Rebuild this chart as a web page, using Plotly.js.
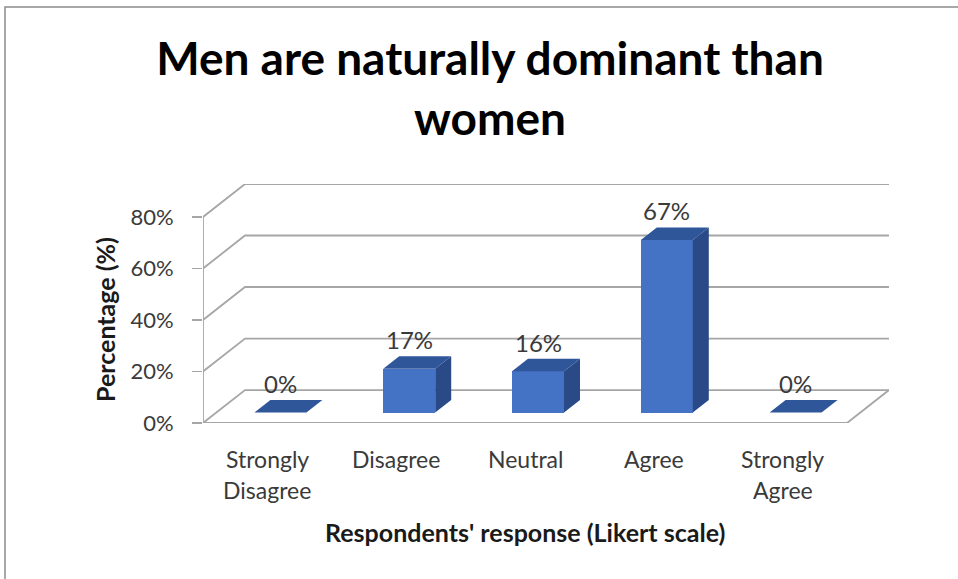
<!DOCTYPE html>
<html>
<head>
<meta charset="utf-8">
<script src="https://cdn.plot.ly/plotly-3.0.1.min.js"></script>
<style>
  html, body { margin: 0; padding: 0; background: #ffffff; }
  #chart { width: 958px; height: 579px; }
</style>
</head>
<body>
<div id="chart"></div>
<script>
// Survey responses on a Likert scale
const categories = ['Strongly Disagree', 'Disagree', 'Neutral', 'Agree', 'Strongly Agree'];
const categoryLines = [['Strongly', 'Disagree'], ['Disagree'], ['Neutral'], ['Agree'], ['Strongly', 'Agree']];
const values = [0, 17, 16, 67, 0];
const valueLabels = ['0%', '17%', '16%', '67%', '0%'];
const yTickVals = [0, 20, 40, 60, 80];
const yTickText = ['0%', '20%', '40%', '60%', '80%'];

// Canvas geometry (pixels)
const W = 958, H = 579;
const PLOT_L = 203, PLOT_R = 889, PLOT_T = 184, PLOT_B = 423;
const PX_PER_CAT = 128.8, PX_PER_PCT = 2.579;

// Oblique 3-D projection offsets, converted into axis units
const FLOOR_DX = 42 / PX_PER_CAT, FLOOR_DY = 33 / PX_PER_PCT;
const BAR_SHIFT = 13 / PX_PER_CAT, BAR_BASE = 10.5 / PX_PER_PCT;
const BAR_W = 52 / PX_PER_CAT;
const BAR_DX = 16 / PX_PER_CAT, BAR_DY = 12.5 / PX_PER_PCT;

const X0 = -0.5, X1 = categories.length - 0.5;
const Y_TOP = yTickVals[yTickVals.length - 1];

const px = (x) => (x - PLOT_L) / (PLOT_R - PLOT_L);
const py = (y) => (PLOT_B - y) / (PLOT_B - PLOT_T);

const FONT = 'Lato, "Open Sans", sans-serif';
const GRID = '#a6a6a6';
const FRONT = '#4472c4', TOP = '#30569a', SIDE = '#294a86';

// Walls and floor: gridlines bending back from the left wall
const shapes = [];
yTickVals.forEach((v) => {
  shapes.push({
    type: 'path', xref: 'x', yref: 'y', layer: 'below',
    path: `M ${X0} ${v} L ${X0 + FLOOR_DX} ${v + FLOOR_DY} L ${X1 + FLOOR_DX} ${v + FLOOR_DY}`,
    line: { color: GRID, width: 1.8 }
  });
});
shapes.push({
  type: 'path', xref: 'x', yref: 'y', layer: 'below',
  path: `M ${X0} ${Y_TOP} L ${X0} 0 L ${X1} 0 L ${X1 + FLOOR_DX} ${FLOOR_DY}`,
  line: { color: GRID, width: 1.8 }
});
// Chart frame
shapes.push({
  type: 'path', xref: 'paper', yref: 'paper', layer: 'below',
  path: `M ${px(5)} ${py(H + 5)} L ${px(5)} ${py(7)} L ${px(W + 5)} ${py(7)}`,
  line: { color: '#8c8c8c', width: 1.5 }
});

// Bar geometry
const barX = categories.map((_, i) => i + BAR_SHIFT);
const sideX = [], sideY = [], topX = [], topY = [];
values.forEach((v, i) => {
  const xl = barX[i] - BAR_W / 2, xr = barX[i] + BAR_W / 2;
  const b = BAR_BASE, t = BAR_BASE + v;
  topX.push(xl, xr, xr + BAR_DX, xl + BAR_DX, xl, null);
  topY.push(t, t, t + BAR_DY, t + BAR_DY, t, null);
  if (v > 0) {
    sideX.push(xr, xr, xr + BAR_DX, xr + BAR_DX, xr, null);
    sideY.push(b, t, t + BAR_DY, b + BAR_DY, b, null);
  }
});

const traces = [
  {
    type: 'bar', x: barX, y: values, base: BAR_BASE, width: BAR_W,
    marker: { color: FRONT, line: { width: 0 } },
    hoverinfo: 'skip', showlegend: false
  },
  {
    type: 'scatter', mode: 'lines', x: sideX, y: sideY, fill: 'toself',
    fillcolor: SIDE, line: { width: 0, color: SIDE }, hoverinfo: 'skip',
    showlegend: false, cliponaxis: false
  },
  {
    type: 'scatter', mode: 'lines', x: topX, y: topY, fill: 'toself',
    fillcolor: TOP, line: { width: 0, color: TOP }, hoverinfo: 'skip',
    showlegend: false, cliponaxis: false
  }
];

const annotations = [];
// Value labels above each bar
values.forEach((v, i) => {
  annotations.push({
    x: barX[i], y: BAR_BASE + v + BAR_DY, xref: 'x', yref: 'y',
    text: valueLabels[i], showarrow: false, yanchor: 'bottom', yshift: 0,
    font: { family: FONT, size: 24, color: '#3a3a3a' }
  });
});
// Category labels under the floor
categoryLines.forEach((lines, i) => {
  lines.forEach((ln, k) => {
    annotations.push({
      x: i, y: py(459 + k * 31), xref: 'x', yref: 'paper',
      text: ln, showarrow: false, xanchor: 'center', yanchor: 'middle',
      font: { family: FONT, size: 23, color: '#3a3a3a' }
    });
  });
});
// Axis titles
annotations.push({
  x: px(525), y: py(532), xref: 'paper', yref: 'paper',
  text: "<b>Respondents' response (Likert scale)</b>", showarrow: false,
  xanchor: 'center', yanchor: 'middle',
  font: { family: FONT, size: 25, color: '#1a1a1a' }
});
annotations.push({
  x: px(105), y: py(320), xref: 'paper', yref: 'paper', textangle: -90,
  text: '<b>Percentage (%)</b>', showarrow: false,
  xanchor: 'center', yanchor: 'middle',
  font: { family: FONT, size: 25, color: '#1a1a1a' }
});

const layout = {
  width: W, height: H,
  margin: { l: PLOT_L, r: W - PLOT_R, t: PLOT_T, b: H - PLOT_B, pad: 0 },
  paper_bgcolor: '#ffffff', plot_bgcolor: 'rgba(0,0,0,0)',
  title: {
    text: '<b>Men are naturally dominant than<br>women</b>',
    x: 490 / W, xanchor: 'center', xref: 'container',
    y: 1 - 75 / H, yanchor: 'top', yref: 'container',
    font: { family: FONT, size: 46, color: '#000000' }
  },
  xaxis: {
    range: [X0, X1 + FLOOR_DX], showgrid: false, zeroline: false,
    showline: false, showticklabels: false, ticks: '', fixedrange: true
  },
  yaxis: {
    range: [0, Y_TOP + FLOOR_DY], showgrid: false, zeroline: false,
    showline: false, tickvals: yTickVals, ticktext: yTickText,
    ticks: 'outside', ticklen: 10, tickwidth: 1.8, tickcolor: GRID,
    ticklabelstandoff: 14,
    tickfont: { family: FONT, size: 22, color: '#3a3a3a' }, fixedrange: true
  },
  shapes: shapes,
  annotations: annotations,
  showlegend: false,
  bargap: 0
};

Plotly.newPlot('chart', traces, layout, { staticPlot: true, displayModeBar: false });
</script>
</body>
</html>
